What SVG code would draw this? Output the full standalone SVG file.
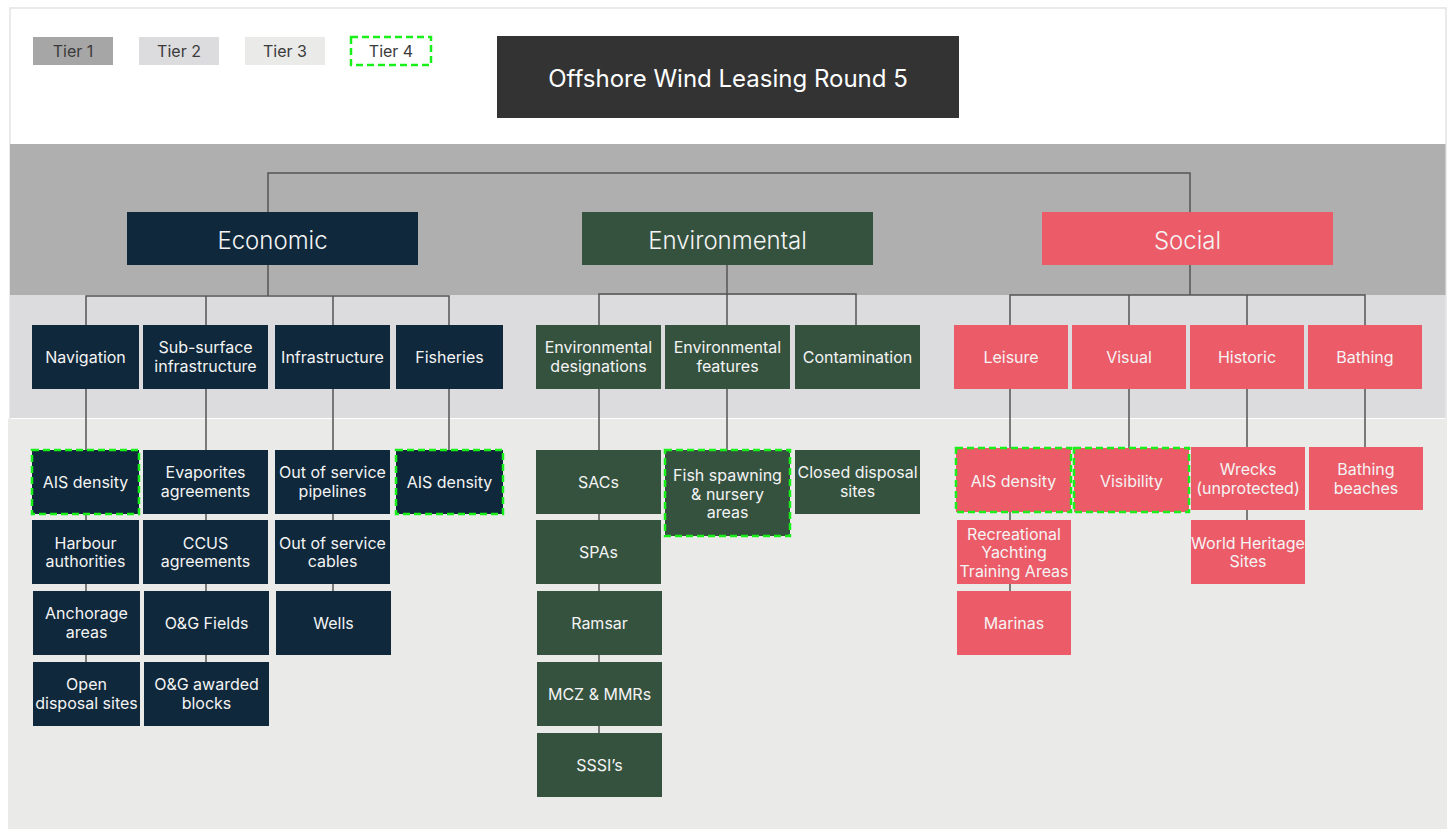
<svg xmlns="http://www.w3.org/2000/svg" width="1453" height="829" viewBox="0 0 1453 829">
  <defs>
    <style>
      text { font-family: Inter, "Noto Sans", "Liberation Sans", sans-serif; text-anchor: middle; }
      .lt { font-size: 16px; fill: #3a3a3a; }
      .nt { font-size: 16px; fill: #f4f4f4; }
      .ct { font-size: 24px; font-weight: 300; fill: #f4f4f4; }
      .tt { font-size: 24px; fill: #ffffff; }
      .eco { fill: #0f283b; }
      .env { fill: #35523f; }
      .soc { fill: #ec5b68; }
      .t4 { stroke: #19f019; stroke-width: 2.5; stroke-dasharray: 7 4; }
      .conn { fill: none; stroke: #555555; stroke-width: 1.5; }
    </style>
  </defs>

  <!-- background frame and tier bands -->
  <rect x="10" y="8" width="1436" height="821" fill="#ffffff" stroke="#e4e4e4" stroke-width="1.5"/>
  <rect x="10" y="144" width="1435.5" height="151" fill="#afafaf"/>
  <rect x="10" y="295" width="1435.5" height="123" fill="#dcdbde"/>
  <rect x="8" y="419" width="1439" height="410" fill="#eaeae8"/>

  <!-- legend -->
  <g id="legend">
    <rect x="33" y="37" width="80" height="28" fill="#a6a6a6"/>
    <text class="lt" x="73" y="57">Tier 1</text>
    <rect x="139" y="37" width="80" height="28" fill="#dcdbde"/>
    <text class="lt" x="179" y="57">Tier 2</text>
    <rect x="245" y="37" width="80" height="28" fill="#eaeae8"/>
    <text class="lt" x="285" y="57">Tier 3</text>
    <rect x="351" y="37" width="80" height="28" fill="#ffffff" class="t4"/>
    <text class="lt" x="391" y="57">Tier 4</text>
  </g>

  <!-- connectors -->
  <g id="connectors" class="conn">
    <!-- root level -->
    <polyline points="268,212 268,173 1190,173 1190,212"/>
    <!-- economic -->
    <line x1="268" y1="265" x2="268" y2="296"/>
    <polyline points="86,325 86,296 449,296 449,325"/>
    <line x1="206" y1="296" x2="206" y2="325"/>
    <line x1="333" y1="296" x2="333" y2="325"/>
    <line x1="86" y1="389" x2="86" y2="662"/>
    <line x1="206" y1="389" x2="206" y2="662"/>
    <line x1="333" y1="389" x2="333" y2="591"/>
    <line x1="449" y1="389" x2="449" y2="450"/>
    <!-- environmental -->
    <line x1="727" y1="265" x2="727" y2="294"/>
    <polyline points="599,325 599,294 856,294 856,325"/>
    <line x1="727" y1="294" x2="727" y2="325"/>
    <line x1="599" y1="389" x2="599" y2="733"/>
    <line x1="727" y1="389" x2="727" y2="450"/>
    <!-- social -->
    <line x1="1190" y1="265" x2="1190" y2="295"/>
    <polyline points="1010,325 1010,295 1365,295 1365,325"/>
    <line x1="1129" y1="295" x2="1129" y2="325"/>
    <line x1="1247" y1="295" x2="1247" y2="325"/>
    <line x1="1010" y1="389" x2="1010" y2="591"/>
    <line x1="1129" y1="389" x2="1129" y2="448"/>
    <line x1="1247" y1="389" x2="1247" y2="520"/>
    <line x1="1365" y1="389" x2="1365" y2="447"/>
  </g>

  <!-- title -->
  <g id="title">
    <rect x="497" y="36" width="462" height="82" fill="#333333"/>
    <text class="tt" x="728" y="87">Offshore Wind Leasing Round 5</text>
  </g>

  <!-- tier 1 -->
  <g id="economic">
    <rect class="eco" x="127" y="212" width="291" height="53"/>
    <text class="ct" x="272.5" y="249">Economic</text>
  </g>
  <g id="environmental">
    <rect class="env" x="582" y="212" width="291" height="53"/>
    <text class="ct" x="727.5" y="249">Environmental</text>
  </g>
  <g id="social">
    <rect class="soc" x="1042" y="212" width="291" height="53"/>
    <text class="ct" x="1187.5" y="249">Social</text>
  </g>

  <!-- economic: tier 2 -->
  <g id="navigation">
    <rect class="eco" x="32" y="325" width="107" height="64"/>
    <text class="nt" x="85.5" y="362.5">Navigation</text>
  </g>
  <g id="sub-surface">
    <rect class="eco" x="143" y="325" width="125" height="64"/>
    <text class="nt" x="205.5" y="353">Sub-surface</text>
    <text class="nt" x="205.5" y="372">infrastructure</text>
  </g>
  <g id="infrastructure">
    <rect class="eco" x="275" y="325" width="115" height="64"/>
    <text class="nt" x="332.5" y="362.5">Infrastructure</text>
  </g>
  <g id="fisheries">
    <rect class="eco" x="396" y="325" width="107" height="64"/>
    <text class="nt" x="449.5" y="362.5">Fisheries</text>
  </g>

  <!-- economic: tier 3 -->
  <g id="nav-ais">
    <rect class="eco t4" x="32" y="450" width="107" height="64"/>
    <text class="nt" x="85.5" y="487.5">AIS density</text>
  </g>
  <g id="evaporites">
    <rect class="eco" x="143" y="450" width="125" height="64"/>
    <text class="nt" x="205.5" y="478">Evaporites</text>
    <text class="nt" x="205.5" y="497">agreements</text>
  </g>
  <g id="pipelines">
    <rect class="eco" x="275" y="450" width="115" height="64"/>
    <text class="nt" x="332.5" y="478">Out of service</text>
    <text class="nt" x="332.5" y="497">pipelines</text>
  </g>
  <g id="fish-ais">
    <rect class="eco t4" x="396" y="450" width="107" height="64"/>
    <text class="nt" x="449.5" y="487.5">AIS density</text>
  </g>
  <g id="harbour">
    <rect class="eco" x="32" y="520" width="107" height="64"/>
    <text class="nt" x="85.5" y="549">Harbour</text>
    <text class="nt" x="85.5" y="567">authorities</text>
  </g>
  <g id="ccus">
    <rect class="eco" x="143" y="520" width="125" height="64"/>
    <text class="nt" x="205.5" y="549">CCUS</text>
    <text class="nt" x="205.5" y="567">agreements</text>
  </g>
  <g id="cables">
    <rect class="eco" x="275" y="520" width="115" height="64"/>
    <text class="nt" x="332.5" y="549">Out of service</text>
    <text class="nt" x="332.5" y="567">cables</text>
  </g>
  <g id="anchorage">
    <rect class="eco" x="33" y="591" width="107" height="64"/>
    <text class="nt" x="86.5" y="619">Anchorage</text>
    <text class="nt" x="86.5" y="638">areas</text>
  </g>
  <g id="og-fields">
    <rect class="eco" x="144" y="591" width="125" height="64"/>
    <text class="nt" x="206.5" y="629">O&amp;G Fields</text>
  </g>
  <g id="wells">
    <rect class="eco" x="276" y="591" width="115" height="64"/>
    <text class="nt" x="333.5" y="629">Wells</text>
  </g>
  <g id="open-disposal">
    <rect class="eco" x="33" y="662" width="107" height="64"/>
    <text class="nt" x="86.5" y="690">Open</text>
    <text class="nt" x="86.5" y="709">disposal sites</text>
  </g>
  <g id="og-blocks">
    <rect class="eco" x="144" y="662" width="125" height="64"/>
    <text class="nt" x="206.5" y="690">O&amp;G awarded</text>
    <text class="nt" x="206.5" y="709">blocks</text>
  </g>

  <!-- environmental: tier 2 -->
  <g id="env-designations">
    <rect class="env" x="536" y="325" width="125" height="64"/>
    <text class="nt" x="598.5" y="353">Environmental</text>
    <text class="nt" x="598.5" y="372">designations</text>
  </g>
  <g id="env-features">
    <rect class="env" x="665" y="325" width="125" height="64"/>
    <text class="nt" x="727.5" y="353">Environmental</text>
    <text class="nt" x="727.5" y="372">features</text>
  </g>
  <g id="contamination">
    <rect class="env" x="795" y="325" width="125" height="64"/>
    <text class="nt" x="857.5" y="362.5">Contamination</text>
  </g>

  <!-- environmental: tier 3 -->
  <g id="sacs">
    <rect class="env" x="536" y="450" width="125" height="64"/>
    <text class="nt" x="598.5" y="487.5">SACs</text>
  </g>
  <g id="fish-spawning">
    <rect class="env t4" x="665" y="450" width="125" height="86"/>
    <text class="nt" x="727.5" y="481">Fish spawning</text>
    <text class="nt" x="727.5" y="499.5">&amp; nursery</text>
    <text class="nt" x="727.5" y="518">areas</text>
  </g>
  <g id="closed-disposal">
    <rect class="env" x="795" y="450" width="125" height="64"/>
    <text class="nt" x="857.5" y="478">Closed disposal</text>
    <text class="nt" x="857.5" y="497">sites</text>
  </g>
  <g id="spas">
    <rect class="env" x="536" y="520" width="125" height="64"/>
    <text class="nt" x="598.5" y="558">SPAs</text>
  </g>
  <g id="ramsar">
    <rect class="env" x="537" y="591" width="125" height="64"/>
    <text class="nt" x="599.5" y="629">Ramsar</text>
  </g>
  <g id="mcz">
    <rect class="env" x="537" y="662" width="125" height="64"/>
    <text class="nt" x="599.5" y="699.5">MCZ &amp; MMRs</text>
  </g>
  <g id="sssi">
    <rect class="env" x="537" y="733" width="125" height="64"/>
    <text class="nt" x="599.5" y="770.5">SSSI’s</text>
  </g>

  <!-- social: tier 2 -->
  <g id="leisure">
    <rect class="soc" x="954" y="325" width="114" height="64"/>
    <text class="nt" x="1011" y="362.5">Leisure</text>
  </g>
  <g id="visual">
    <rect class="soc" x="1072" y="325" width="114" height="64"/>
    <text class="nt" x="1129" y="362.5">Visual</text>
  </g>
  <g id="historic">
    <rect class="soc" x="1190" y="325" width="114" height="64"/>
    <text class="nt" x="1247" y="362.5">Historic</text>
  </g>
  <g id="bathing">
    <rect class="soc" x="1308" y="325" width="114" height="64"/>
    <text class="nt" x="1365" y="362.5">Bathing</text>
  </g>

  <!-- social: tier 3 -->
  <g id="leisure-ais">
    <rect class="soc t4" x="956" y="448" width="115" height="64"/>
    <text class="nt" x="1013.5" y="486.5">AIS density</text>
  </g>
  <g id="visibility">
    <rect class="soc t4" x="1074" y="448" width="115" height="64"/>
    <text class="nt" x="1131.5" y="486.5">Visibility</text>
  </g>
  <g id="wrecks">
    <rect class="soc" x="1191" y="447" width="114" height="63"/>
    <text class="nt" x="1248" y="475">Wrecks</text>
    <text class="nt" x="1248" y="494">(unprotected)</text>
  </g>
  <g id="bathing-beaches">
    <rect class="soc" x="1309" y="447" width="114" height="63"/>
    <text class="nt" x="1366" y="475">Bathing</text>
    <text class="nt" x="1366" y="494">beaches</text>
  </g>
  <g id="yachting">
    <rect class="soc" x="957" y="520" width="114" height="64"/>
    <text class="nt" x="1014" y="539.5">Recreational</text>
    <text class="nt" x="1014" y="558">Yachting</text>
    <text class="nt" x="1014" y="577">Training Areas</text>
  </g>
  <g id="world-heritage">
    <rect class="soc" x="1191" y="520" width="114" height="64"/>
    <text class="nt" x="1248" y="549">World Heritage</text>
    <text class="nt" x="1248" y="567">Sites</text>
  </g>
  <g id="marinas">
    <rect class="soc" x="957" y="591" width="114" height="64"/>
    <text class="nt" x="1014" y="629">Marinas</text>
  </g>
</svg>
